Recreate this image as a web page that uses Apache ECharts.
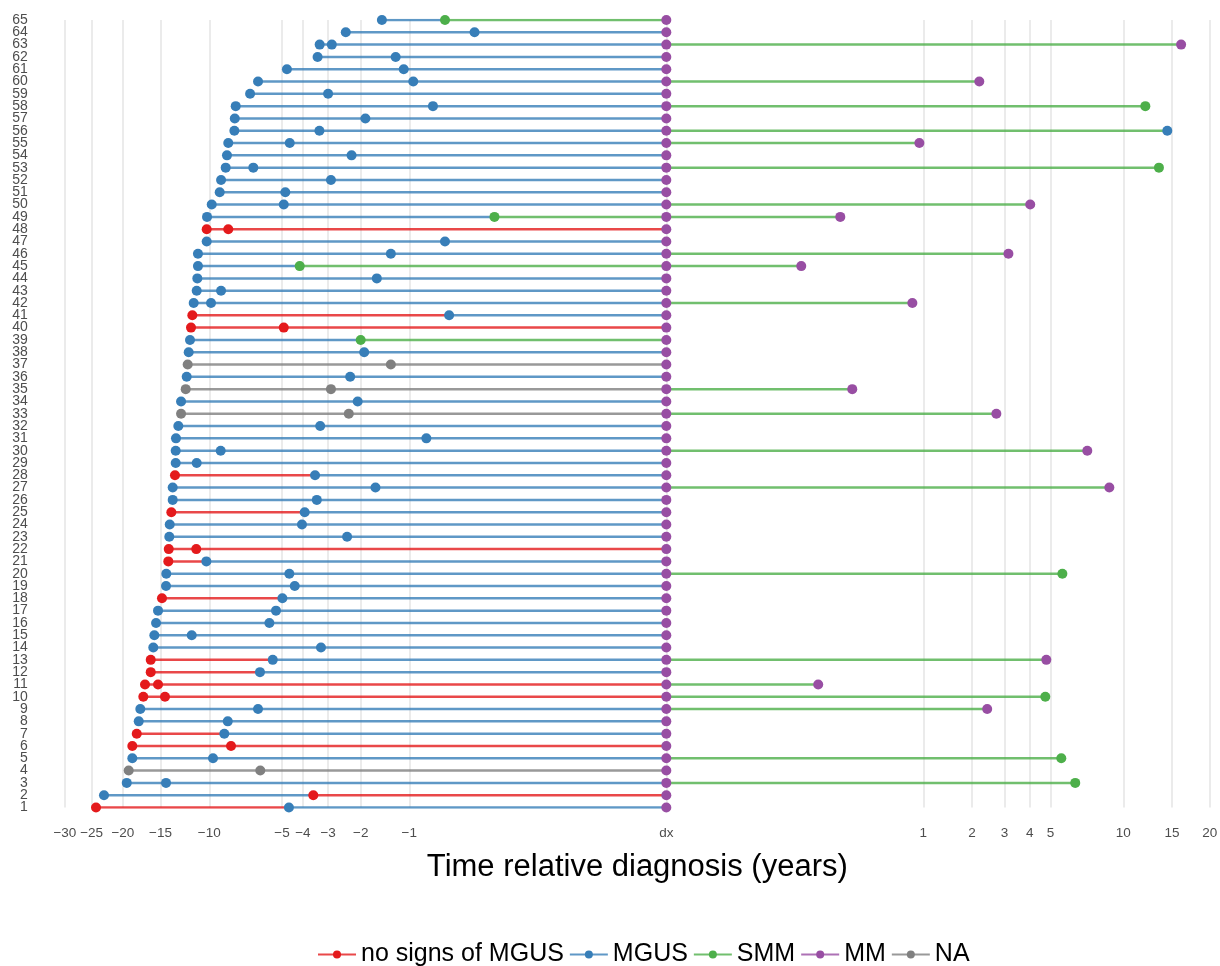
<!DOCTYPE html>
<html><head><meta charset="utf-8">
<script src="https://cdn.jsdelivr.net/npm/echarts@6/dist/echarts.min.js"></script>
<style>html,body{margin:0;padding:0;background:#fff}#c{width:1220px;height:966px}</style>
</head><body><div id="c"></div>
<script>
// ---- data (years relative to diagnosis), one entry per patient row 1..65 ----
const rowIds = Array.from({length: 65}, (_, i) => String(i + 1));
const firstTime = [-24.25,-22.92,-19.43,-19.15,-18.64,-18.64,-18.03,-17.76,-17.55,-17.15,
  -16.93,-16.20,-16.20,-15.88,-15.75,-15.54,-15.30,-14.83,-14.36,-14.33,
  -14.10,-14.05,-13.99,-13.94,-13.76,-13.61,-13.61,-13.36,-13.28,-13.28,
  -13.25,-13.00,-12.71,-12.71,-12.23,-12.13,-12.03,-11.93,-11.80,-11.70,
  -11.57,-11.44,-11.15,-11.09,-11.03,-11.03,-10.23,-10.23,-10.20,-9.79,
  -9.12,-9.01,-8.64,-8.54,-8.44,-7.98,-7.95,-7.88,-6.88,-6.37,
  -4.75,-3.39,-3.31,-2.42,-1.50];
const firstState = ['none','MGUS','MGUS','NA','MGUS','none','none','MGUS','MGUS','none',
  'none','none','none','MGUS','MGUS','MGUS','MGUS','none','MGUS','MGUS',
  'none','none','MGUS','MGUS','none','MGUS','MGUS','none','MGUS','MGUS',
  'MGUS','MGUS','NA','MGUS','NA','MGUS','NA','MGUS','MGUS','none',
  'none','MGUS','MGUS','MGUS','MGUS','MGUS','MGUS','none','MGUS','MGUS',
  'MGUS','MGUS','MGUS','MGUS','MGUS','MGUS','MGUS','MGUS','MGUS','MGUS',
  'MGUS','MGUS','MGUS','MGUS','MGUS'];
const secondTime = [-4.65,-3.56,-14.36,-6.23,-9.68,-8.23,-8.75,-8.48,-6.37,-14.48,
  -15.30,-6.25,-5.50,-3.26,-11.63,-5.69,-5.32,-4.98,-4.37,-4.63,
  -10.26,-11.19,-2.38,-4.04,-3.92,-3.42,-1.64,-3.49,-11.15,-9.04,
  -0.76,-3.29,-2.33,-2.08,-2.90,-2.29,-1.32,-1.91,-2.00,-4.91,
  -0.51,-9.85,-9.01,-1.61,-4.14,-1.32,-0.55,-8.44,-0.20,-4.91,
  -4.83,-2.90,-6.67,-2.25,-4.61,-3.32,-1.88,-0.68,-3.00,-0.94,
  -1.09,-1.23,-2.87,-0.31,-0.55];
const secondState = ['MGUS','none','MGUS','NA','MGUS','none','MGUS','MGUS','MGUS','none',
  'none','MGUS','MGUS','MGUS','MGUS','MGUS','MGUS','MGUS','MGUS','MGUS',
  'MGUS','none','MGUS','MGUS','MGUS','MGUS','MGUS','MGUS','MGUS','MGUS',
  'MGUS','MGUS','NA','MGUS','NA','MGUS','NA','MGUS','SMM','none',
  'MGUS','MGUS','MGUS','MGUS','SMM','MGUS','MGUS','none','SMM','MGUS',
  'MGUS','MGUS','MGUS','MGUS','MGUS','MGUS','MGUS','MGUS','MGUS','MGUS',
  'MGUS','MGUS','MGUS','MGUS','SMM'];
// follow-up after diagnosis
const afterRows   = ['3','5','9','10','11','13','20','27','30','33','35','42','45','46','49','50','53','55','56','58','60','63'];
const afterTime   = [6.41, 5.58, 2.43, 4.73, 0.122, 4.78, 5.64, 8.83, 7.2, 2.72, 0.274, 0.84, 0.076, 3.14, 0.21, 4.02, 13.5, 0.94, 14.44, 12.07, 2.20, 16.1];
const afterState  = ['SMM','SMM','MM','SMM','MM','MM','SMM','MM','MM','MM','MM','MM','MM','MM','MM','MM','SMM','MM','MGUS','SMM','MM','MM'];
const dxState = 'MM';
const afterLineState = 'SMM';

const tickValues = [-30,-25,-20,-15,-10,-5,-4,-3,-2,-1,0,1,2,3,4,5,10,15,20];
const tickLabels = ['\u221230','\u221225','\u221220','\u221215','\u221210','\u22125','\u22124','\u22123','\u22122','\u22121','dx','1','2','3','4','5','10','15','20'];

const stateKeys  = ['none','MGUS','SMM','MM','NA'];
const stateNames = ['no signs of MGUS','MGUS','SMM','MM','NA'];
const stateColors = ['#E41A1C','#377EB8','#4DAF4A','#984EA3','#808080'];

// ---- axis transform: signed fourth root ----
const tr = v => Math.sign(v) * Math.pow(Math.abs(v), 0.25);

const lineData = {}, pointData = {};
stateKeys.forEach(k => { lineData[k] = []; pointData[k] = []; });
function seg(state, a, b, y) {
  lineData[state].push([tr(a), y], [tr(b), y], null);
}
rowIds.forEach((y, i) => {
  seg(firstState[i], firstTime[i], secondTime[i], y);
  seg(secondState[i], secondTime[i], 0, y);
  pointData[firstState[i]].push([tr(firstTime[i]), y]);
  pointData[secondState[i]].push([tr(secondTime[i]), y]);
});
afterRows.forEach((y, j) => {
  seg(afterLineState, 0, afterTime[j], y);
});
rowIds.forEach(y => pointData[dxState].push([0, y]));
afterRows.forEach((y, j) => pointData[afterState[j]].push([tr(afterTime[j]), y]));

const FONT = '"Liberation Sans", Arial, sans-serif';
const series = [];
stateKeys.forEach((k, i) => {
  series.push({
    name: stateNames[i], type: 'line', data: lineData[k],
    showSymbol: false, symbol: 'circle', connectNulls: false,
    itemStyle: {color: stateColors[i]},
    lineStyle: {color: stateColors[i], width: 2.5, opacity: 0.8},
    emphasis: {disabled: true}, silent: true, z: 2
  });
});
stateKeys.forEach((k, i) => {
  series.push({
    name: stateNames[i], type: 'scatter', data: pointData[k],
    symbol: 'circle', symbolSize: 10,
    itemStyle: {color: stateColors[i], opacity: 1},
    emphasis: {disabled: true}, silent: true, z: 3
  });
});

const chart = echarts.init(document.getElementById('c'), null, {renderer: 'canvas'});
chart.setOption({
  animation: false,
  backgroundColor: '#ffffff',
  grid: {left: 64.85, right: 10.2, top: 20, bottom: 158.5, outerBoundsMode: 'none', containLabel: false},
  xAxis: {
    type: 'value', min: tr(-30), max: tr(20),
    axisLine: {show: false},
    axisTick: {show: false, customValues: tickValues.map(tr)},
    splitLine: {show: true, lineStyle: {color: '#ebebeb', width: 2}},
    axisLabel: {
      customValues: tickValues.map(tr), margin: 19,
      color: '#4d4d4d', fontSize: 13.5, fontFamily: FONT,
      formatter: v => {
        let best = 0, bd = Infinity;
        tickValues.forEach((t, i) => { const d = Math.abs(tr(t) - v); if (d < bd) { bd = d; best = i; } });
        return tickLabels[best];
      }
    },
    name: 'Time relative diagnosis (years)', nameLocation: 'middle', nameGap: 44,
    nameTextStyle: {color: '#000', fontSize: 31, fontFamily: FONT}
  },
  yAxis: {
    type: 'category', data: rowIds, boundaryGap: false,
    axisLine: {show: false}, axisTick: {show: false},
    splitLine: {show: false},
    axisLabel: {interval: 0, color: '#4d4d4d', fontSize: 14, fontFamily: FONT, margin: 37,
      hideOverlap: false, showMinLabel: true, showMaxLabel: true}
  },
  legend: {
    data: stateNames, left: 312, top: 937,
    itemWidth: 38, itemHeight: 10, itemGap: 5,
    textStyle: {color: '#000', fontSize: 25, fontFamily: FONT},
    selectedMode: false
  },
  series: series
});
</script></body></html>
